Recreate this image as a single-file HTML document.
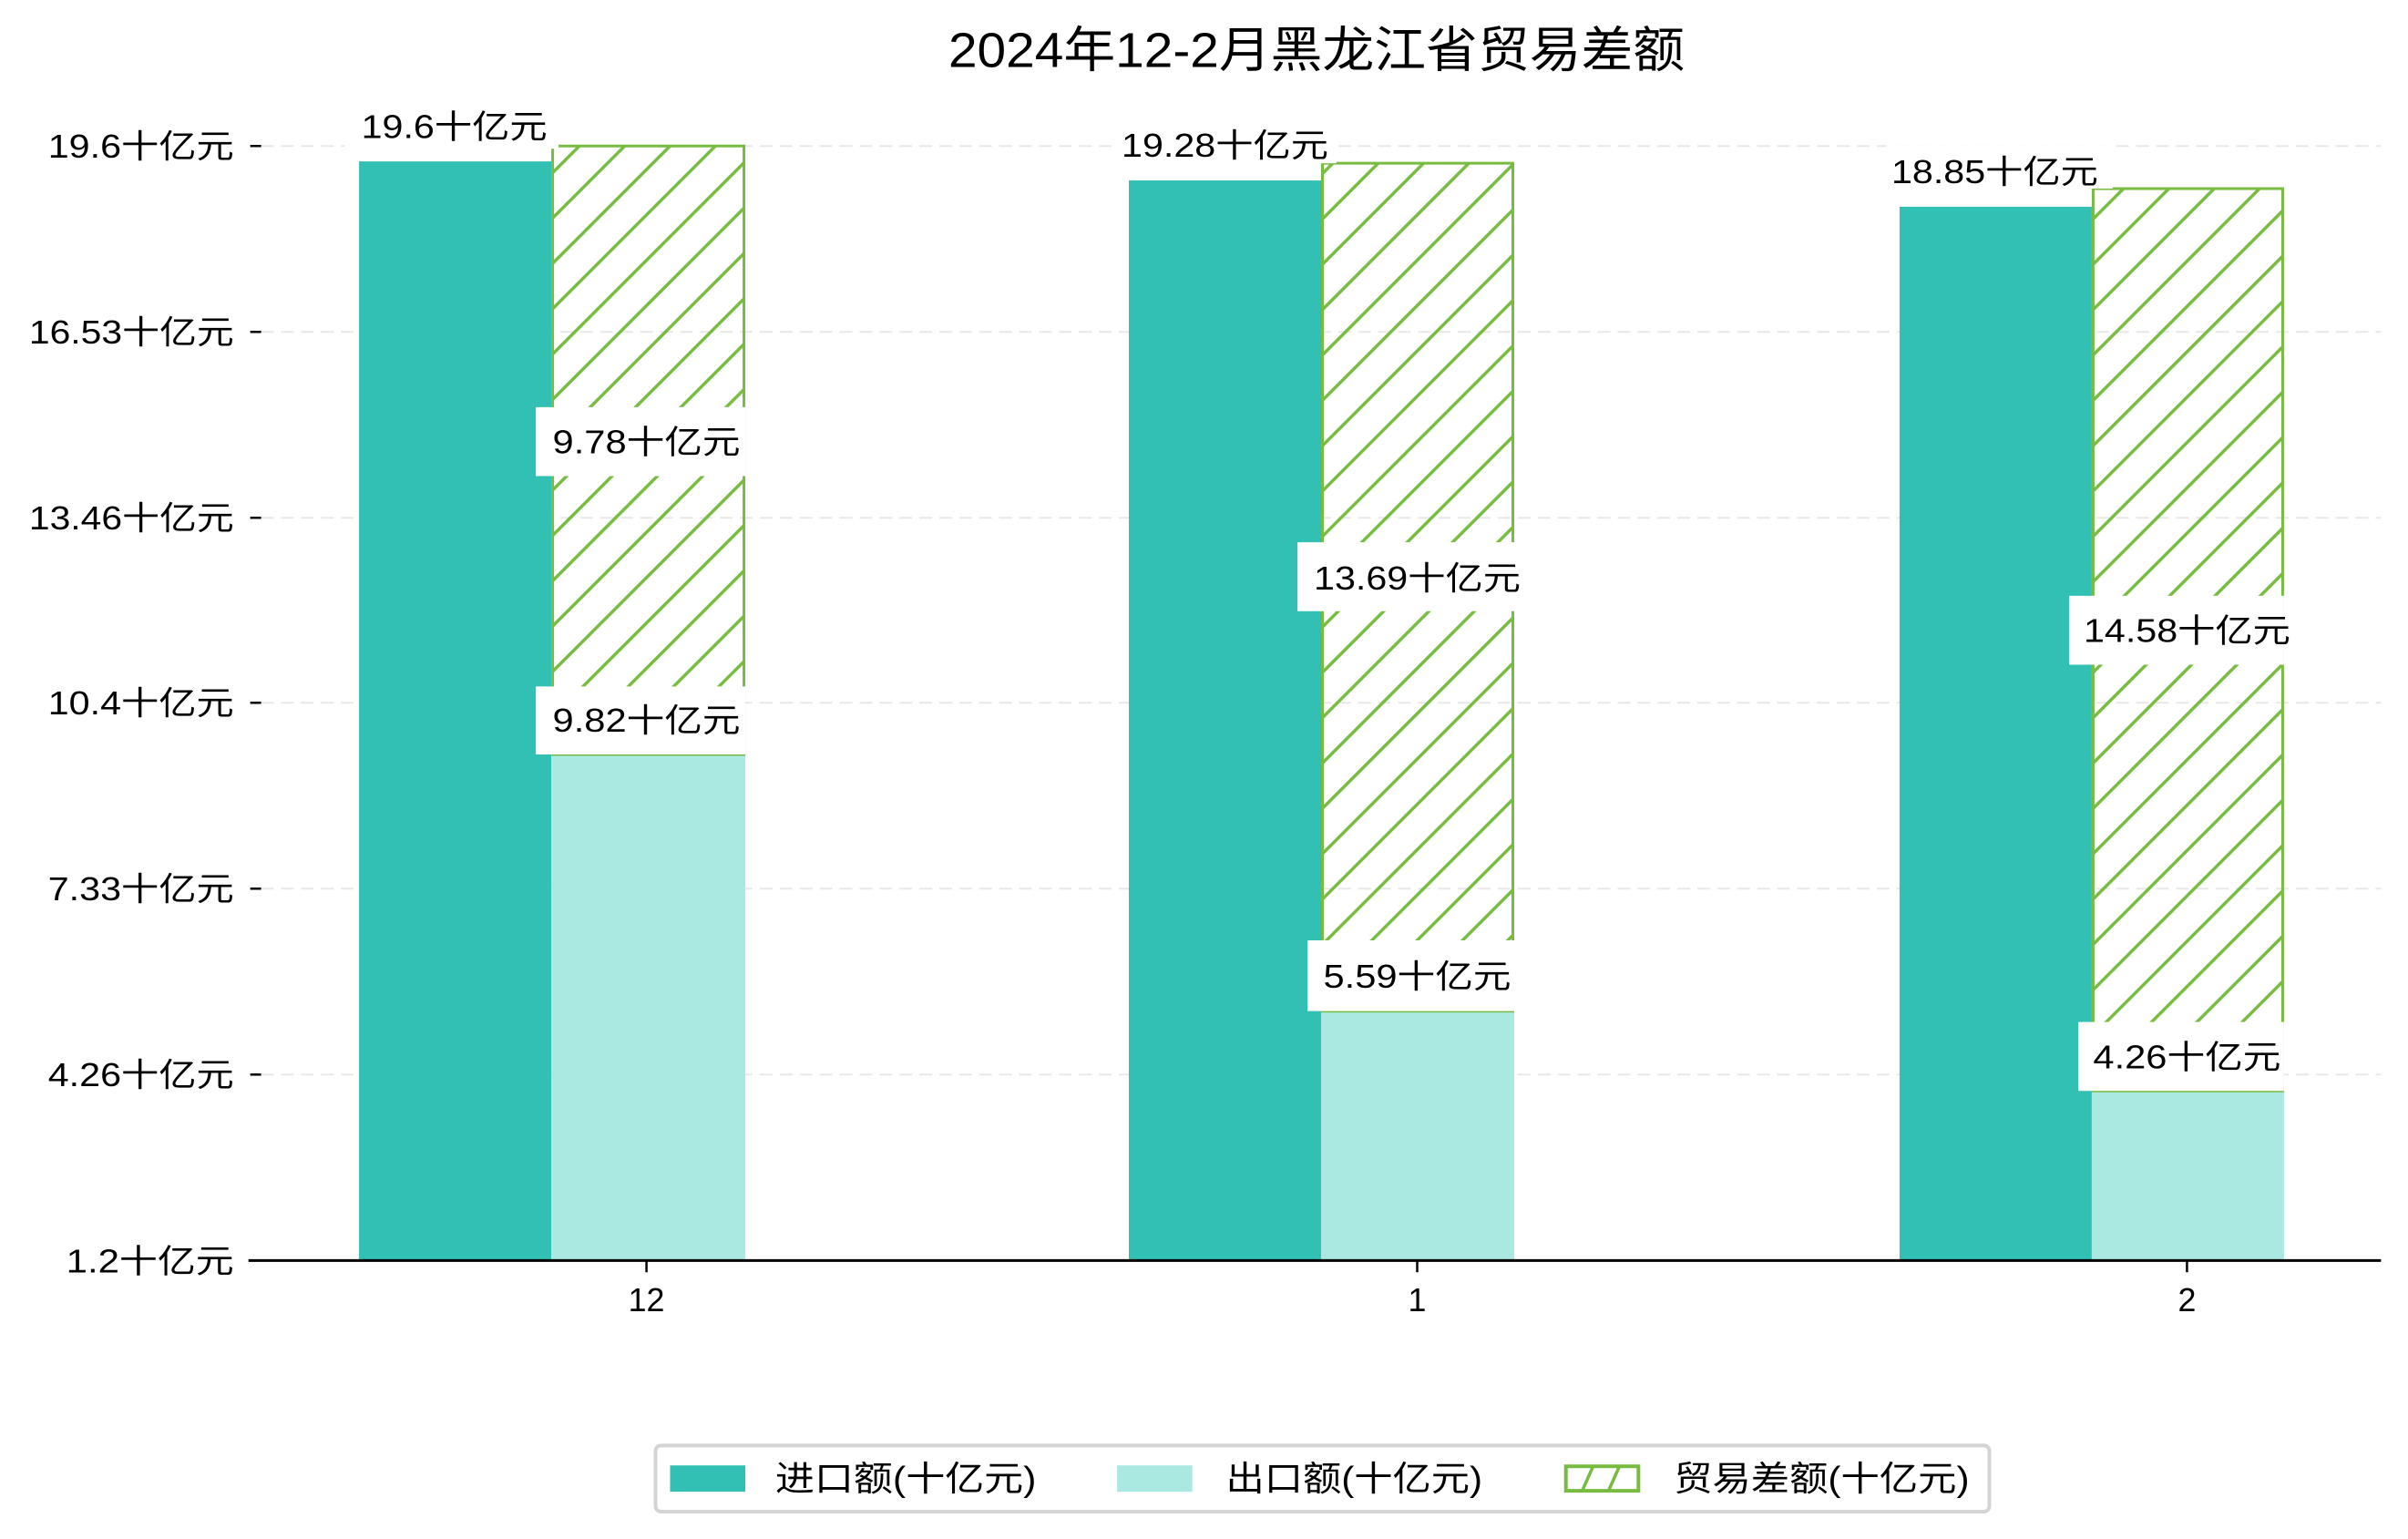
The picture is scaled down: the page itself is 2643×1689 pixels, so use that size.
<!DOCTYPE html>
<html><head><meta charset="utf-8"><style>
html,body{margin:0;padding:0;background:#fff;}
svg{display:block;}
text{font-family:"Liberation Sans","Noto Sans CJK SC",sans-serif;fill:#000;}
</style></head><body>
<svg width="2643" height="1689" viewBox="0 0 2643 1689" xmlns="http://www.w3.org/2000/svg">
<defs>
<pattern id="h" patternUnits="userSpaceOnUse" width="50" height="50">
<path d="M-5,55 L55,-5 M-30,30 L30,-30 M20,80 L80,20" stroke="#77bb41" stroke-width="3.5"/>
</pattern>
</defs>
<rect width="2643" height="1689" fill="#fff"/>
<g transform="scale(0.9952)">
<text x="1452" y="74" font-size="54" text-anchor="middle" textLength="812" lengthAdjust="spacingAndGlyphs">2024年12-2月黑龙江省贸易差额</text>

<g stroke="#e8e8e8" stroke-width="2" stroke-dasharray="14,8">
<line x1="288" x2="2626" y1="161" y2="161"/>
<line x1="288" x2="2626" y1="366" y2="366"/>
<line x1="288" x2="2626" y1="571" y2="571"/>
<line x1="288" x2="2626" y1="775" y2="775"/>
<line x1="288" x2="2626" y1="980" y2="980"/>
<line x1="288" x2="2626" y1="1185" y2="1185"/>
</g>
<g stroke="#000" stroke-width="2.5">
<line x1="276" x2="288" y1="161" y2="161"/>
<line x1="276" x2="288" y1="366" y2="366"/>
<line x1="276" x2="288" y1="571" y2="571"/>
<line x1="276" x2="288" y1="775" y2="775"/>
<line x1="276" x2="288" y1="980" y2="980"/>
<line x1="276" x2="288" y1="1185" y2="1185"/>
<line x1="276" x2="288" y1="1390" y2="1390"/>
</g>
<g font-size="36" text-anchor="end">
<text x="258" y="174" textLength="205" lengthAdjust="spacingAndGlyphs">19.6十亿元</text>
<text x="258" y="379" textLength="226" lengthAdjust="spacingAndGlyphs">16.53十亿元</text>
<text x="258" y="584" textLength="226" lengthAdjust="spacingAndGlyphs">13.46十亿元</text>
<text x="258" y="788" textLength="205" lengthAdjust="spacingAndGlyphs">10.4十亿元</text>
<text x="258" y="993" textLength="205" lengthAdjust="spacingAndGlyphs">7.33十亿元</text>
<text x="258" y="1198" textLength="205" lengthAdjust="spacingAndGlyphs">4.26十亿元</text>
<text x="258" y="1403" textLength="185" lengthAdjust="spacingAndGlyphs">1.2十亿元</text>
</g>

<rect x="396" y="178" width="212" height="1212" fill="#31c0b3"/>
<rect x="608" y="832" width="214" height="558" fill="#aae8e2"/>
<rect x="609.5" y="161" width="211" height="671" fill="url(#h)" stroke="#77bb41" stroke-width="3"/>
<rect x="1245" y="199" width="212" height="1191" fill="#31c0b3"/>
<rect x="1457" y="1115" width="213" height="275" fill="#aae8e2"/>
<rect x="1458.5" y="180" width="210" height="935" fill="url(#h)" stroke="#77bb41" stroke-width="3"/>
<rect x="2095" y="228" width="212" height="1162" fill="#31c0b3"/>
<rect x="2307" y="1203" width="212" height="187" fill="#aae8e2"/>
<rect x="2308.5" y="208" width="209" height="995" fill="url(#h)" stroke="#77bb41" stroke-width="3"/>

<g fill="#fff">
<rect x="591" y="449" width="231" height="76"/>
<rect x="591" y="757" width="231" height="75"/>
<rect x="1431" y="598" width="239" height="76"/>
<rect x="1442" y="1037" width="228" height="78"/>
<rect x="2282" y="657" width="237" height="76"/>
<rect x="2292" y="1127" width="227" height="76"/>
<rect x="380" y="112" width="236" height="52"/>
<rect x="1228" y="134" width="246" height="46"/>
<rect x="2080" y="160" width="250" height="48"/>
</g>
<g font-size="36" text-anchor="middle">
<text x="501" y="152" textLength="205" lengthAdjust="spacingAndGlyphs">19.6十亿元</text>
<text x="713" y="500" textLength="207" lengthAdjust="spacingAndGlyphs">9.78十亿元</text>
<text x="713" y="807" textLength="207" lengthAdjust="spacingAndGlyphs">9.82十亿元</text>
<text x="1351" y="173" textLength="228" lengthAdjust="spacingAndGlyphs">19.28十亿元</text>
<text x="1563" y="650" textLength="228" lengthAdjust="spacingAndGlyphs">13.69十亿元</text>
<text x="1563" y="1089" textLength="207" lengthAdjust="spacingAndGlyphs">5.59十亿元</text>
<text x="2200" y="202" textLength="228" lengthAdjust="spacingAndGlyphs">18.85十亿元</text>
<text x="2412" y="708" textLength="228" lengthAdjust="spacingAndGlyphs">14.58十亿元</text>
<text x="2412" y="1178" textLength="207" lengthAdjust="spacingAndGlyphs">4.26十亿元</text>
</g>

<line x1="274" x2="2626" y1="1390" y2="1390" stroke="#000" stroke-width="3"/>
<g stroke="#000" stroke-width="2.5">
<line x1="713" x2="713" y1="1390" y2="1403"/>
<line x1="1563" x2="1563" y1="1390" y2="1403"/>
<line x1="2412" x2="2412" y1="1390" y2="1403"/>
</g>
<g font-size="36" text-anchor="middle">
<text x="713" y="1446">12</text>
<text x="1563" y="1446">1</text>
<text x="2412" y="1446">2</text>
</g>

<rect x="723" y="1594" width="1471" height="73" rx="6" fill="#fff" stroke="#d4d4d4" stroke-width="4"/>
<rect x="739" y="1616" width="83" height="29" fill="#31c0b3"/>
<rect x="1232" y="1616" width="83" height="29" fill="#aae8e2"/>
<rect x="1727" y="1617" width="80" height="27" fill="#fff" stroke="#77bb41" stroke-width="4"/>
<path d="M1745,1644 L1757,1617 M1774,1644 L1786,1617" stroke="#77bb41" stroke-width="3.5"/>
<g font-size="38">
<text x="855" y="1644" textLength="288" lengthAdjust="spacingAndGlyphs">进口额(十亿元)</text>
<text x="1352" y="1644" textLength="283" lengthAdjust="spacingAndGlyphs">出口额(十亿元)</text>
<text x="1846" y="1644" textLength="326" lengthAdjust="spacingAndGlyphs">贸易差额(十亿元)</text>
</g>
</g>
</svg>
</body></html>
